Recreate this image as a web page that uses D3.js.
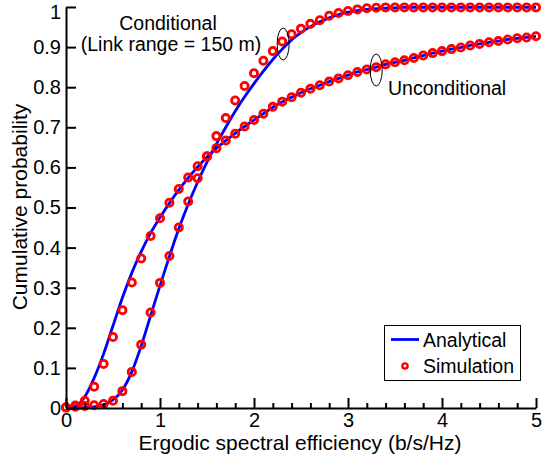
<!DOCTYPE html>
<html>
<head>
<meta charset="utf-8">
<script src="https://cdn.jsdelivr.net/npm/d3@7"></script>
<style>
  html, body { margin: 0; padding: 0; background: #fff; }
  svg { display: block; font-family: "Liberation Sans", Arial, Helvetica, sans-serif; }
</style>
</head>
<body>
<svg id="chart" width="543" height="459"></svg>
<script>
// ---- data ----
const effGrid = [0,0.1,0.2,0.3,0.4,0.5,0.6,0.7,0.8,0.9,1.0,1.1,1.2,1.3,1.4,1.5,1.6,1.7,1.8,1.9,
  2.0,2.1,2.2,2.3,2.4,2.5,2.6,2.7,2.8,2.9,3.0,3.1,3.2,3.3,3.4,3.5,3.6,3.7,3.8,3.9,
  4.0,4.1,4.2,4.3,4.4,4.5,4.6,4.7,4.8,4.9,5.0];

const condAnalytical = [0,0,0.001,0.003,0.008,0.02,0.045,0.09,0.155,0.23,
  0.305,0.378,0.447,0.508,0.563,0.613,0.658,0.7,0.74,0.776,
  0.809,0.84,0.869,0.895,0.918,0.936,0.951,0.963,0.973,0.981,
  0.987,0.991,0.994,0.996,0.997,0.998,0.999,0.999,0.999,0.999,
  0.999,0.999,0.999,0.999,0.999,0.999,0.999,0.999,0.999,0.999,0.999];

const condSimulation = [0.002,0.003,0.005,0.007,0.01,0.018,0.042,0.09,0.158,0.238,
  0.312,0.379,0.45,0.515,0.573,0.627,0.678,0.723,0.767,0.803,
  0.835,0.866,0.89,0.914,0.932,0.946,0.958,0.967,0.978,0.985,
  0.99,0.994,0.997,0.998,0.999,0.999,0.999,0.999,0.999,0.999,
  0.999,0.999,0.999,0.999,0.999,0.999,0.999,0.999,0.999,0.999,0.999];

const uncondAnalytical = [0,0.004,0.028,0.075,0.135,0.205,0.275,0.337,0.39,0.436,
  0.475,0.511,0.544,0.574,0.601,0.626,0.648,0.667,0.685,0.702,
  0.718,0.734,0.75,0.763,0.775,0.786,0.796,0.805,0.814,0.822,
  0.83,0.838,0.844,0.85,0.857,0.862,0.867,0.873,0.879,0.885,
  0.89,0.895,0.899,0.904,0.908,0.912,0.915,0.919,0.922,0.924,0.927];

const uncondSimulation = [0.001,0.006,0.018,0.053,0.11,0.177,0.244,0.313,0.373,0.429,
  0.473,0.512,0.546,0.575,0.603,0.628,0.648,0.667,0.684,0.702,
  0.718,0.734,0.751,0.764,0.775,0.786,0.796,0.805,0.814,0.822,
  0.83,0.838,0.844,0.85,0.857,0.862,0.867,0.873,0.879,0.885,
  0.89,0.895,0.899,0.904,0.908,0.912,0.915,0.919,0.922,0.924,0.927];

const xTicks = [0,1,2,3,4,5];
const xMinorTicks = [0.2,0.4,0.6,0.8,1.2,1.4,1.6,1.8,2.2,2.4,2.6,2.8,3.2,3.4,3.6,3.8,4.2,4.4,4.6,4.8];
const yTicks = [0,0.1,0.2,0.3,0.4,0.5,0.6,0.7,0.8,0.9,1];
const yTickLabels = ["0","0.1","0.2","0.3","0.4","0.5","0.6","0.7","0.8","0.9","1"];
const legendLabels = ["Analytical","Simulation"];
const xTitle = "Ergodic spectral efficiency (b/s/Hz)";
const yTitle = "Cumulative probability";

// ---- drawing ----
const svg = d3.select("#chart");
svg.append("rect").attr("width",543).attr("height",459).attr("fill","#fff");

const x = d3.scaleLinear().domain([0,5]).range([66,536]);
const y = d3.scaleLinear().domain([0,1]).range([408,7]);

const line = d3.line().x((d,i)=>x(effGrid[i])).y(d=>y(d)).curve(d3.curveMonotoneX);

const plot = svg.append("g");
[condAnalytical, uncondAnalytical].forEach(s => {
  plot.append("path").datum(s).attr("d", line)
    .attr("fill","none").attr("stroke","#0000ff").attr("stroke-width",2.8);
});
[condSimulation, uncondSimulation].forEach(s => {
  plot.append("g").selectAll("circle").data(s).join("circle")
    .attr("cx",(d,i)=>x(effGrid[i])).attr("cy",d=>y(d)).attr("r",3.6)
    .attr("fill","none").attr("stroke","#ff0000").attr("stroke-width",2.8);
});

// axes
const fs = 20;
const xAxis = svg.append("g").attr("transform","translate(0,408)")
  .call(d3.axisBottom(x).tickValues(xTicks).tickFormat(d3.format("d"))
    .tickSizeInner(-10).tickSizeOuter(0).tickPadding(5));
const xMinor = svg.append("g").attr("transform","translate(0,408)")
  .call(d3.axisBottom(x).tickValues(xMinorTicks).tickFormat("")
    .tickSizeInner(-5).tickSizeOuter(0));
xMinor.select(".domain").remove();
const yAxis = svg.append("g").attr("transform","translate(66,0)")
  .call(d3.axisLeft(y).tickValues(yTicks).tickFormat((d,i)=>yTickLabels[i])
    .tickSizeInner(-10).tickSizeOuter(0).tickPadding(5));

svg.selectAll(".domain").attr("stroke","#000").attr("stroke-width",2);
svg.selectAll(".tick line").attr("stroke","#000").attr("stroke-width",2);
svg.selectAll(".tick text").attr("font-size",fs).attr("fill","#000")
  .attr("font-family",'"Liberation Sans", Arial, sans-serif');
// keep the top label inside the picture
yAxis.selectAll(".tick text").filter(d => d === 1).attr("y",5);

// titles
svg.append("text").attr("x",300).attr("y",450).attr("text-anchor","middle")
  .attr("font-size",21).text(xTitle);
svg.append("text").attr("transform","translate(27,207) rotate(-90)")
  .attr("text-anchor","middle").attr("font-size",21).text(yTitle);

// annotations
const ann = svg.append("g").attr("font-size",19.5).attr("fill","#000");
ann.append("text").attr("x",168).attr("y",30).attr("text-anchor","middle").text("Conditional");
ann.append("text").attr("x",171).attr("y",51).attr("text-anchor","middle").text("(Link range = 150 m)");
ann.append("text").attr("x",388).attr("y",95).text("Unconditional");
svg.append("ellipse").attr("cx",x(2.31)).attr("cy",44).attr("rx",6).attr("ry",16)
  .attr("fill","none").attr("stroke","#000").attr("stroke-width",1);
svg.append("ellipse").attr("cx",x(3.3)).attr("cy",70).attr("rx",6).attr("ry",16)
  .attr("fill","none").attr("stroke","#000").attr("stroke-width",1);

// legend
const lg = svg.append("g");
lg.append("rect").attr("x",384.5).attr("y",325.5).attr("width",136).attr("height",55)
  .attr("fill","#fff").attr("stroke","#000").attr("stroke-width",1);
lg.append("line").attr("x1",391).attr("x2",419).attr("y1",339.5).attr("y2",339.5)
  .attr("stroke","#0000ff").attr("stroke-width",2.8);
lg.append("circle").attr("cx",405).attr("cy",366).attr("r",2.6)
  .attr("fill","none").attr("stroke","#ff0000").attr("stroke-width",2.4);
lg.append("text").attr("x",423).attr("y",346.5).attr("font-size",19.5).text(legendLabels[0]);
lg.append("text").attr("x",423).attr("y",373).attr("font-size",19.5).text(legendLabels[1]);
</script>
</body>
</html>
